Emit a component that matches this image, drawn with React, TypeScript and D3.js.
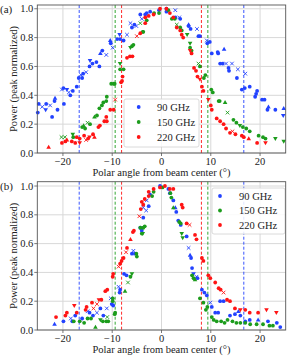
import React from 'react';
import * as d3 from 'd3';

type Pt = [number, number, string];

// panel (a)
const aBlue: Pt[] = [[-25.1,0.28,'o'],[-24.9,0.34,'o'],[-24.2,0.32,'x'],[-23.4,0.34,'o'],[-23.5,0.30,'v'],[-22.6,0.33,'x'],[-22.2,0.25,'o'],[-21.7,0.36,'o'],[-21.6,0.38,'^'],[-21.1,0.30,'o'],[-20.2,0.44,'x'],[-19.9,0.45,'o'],[-19.8,0.34,'o'],[-19.2,0.44,'v'],[-18.8,0.42,'x'],[-18.5,0.40,'o'],[-18.0,0.43,'o'],[-17.2,0.46,'o'],[-16.8,0.52,'o'],[-16.3,0.54,'x'],[-16.1,0.52,'o'],[-15.9,0.55,'o'],[-15.3,0.56,'x'],[-14.6,0.60,'o'],[-14.5,0.64,'v'],[-14.0,0.62,'o'],[-13.2,0.63,'o'],[-12.6,0.60,'o'],[-12.4,0.69,'^'],[-12.0,0.71,'o'],[-11.2,0.68,'x'],[-10.4,0.78,'^'],[-10.3,0.76,'o'],[-9.9,0.73,'x'],[-9.0,0.79,'o'],[-8.5,0.82,'v'],[-8.4,0.79,'o'],[-7.7,0.78,'o'],[-7.0,0.82,'x'],[-6.3,0.90,'x'],[-6.0,0.87,'o'],[-5.5,0.89,'o'],[-5.1,0.88,'x'],[-4.3,0.96,'o'],[-4.0,0.93,'x'],[-3.3,0.96,'o'],[-3.0,0.97,'o'],[-2.3,0.98,'o'],[-0.5,0.99,'o'],[1.0,1.0,'o'],[1.0,0.98,'o'],[2.8,0.99,'x'],[2.8,0.94,'o'],[3.6,0.94,'x'],[3.8,0.93,'o'],[5.5,0.89,'^'],[5.5,0.88,'o'],[5.9,0.86,'o'],[7.2,0.86,'x'],[7.5,0.81,'o'],[7.8,0.81,'o'],[9.2,0.78,'x'],[9.3,0.76,'o'],[9.8,0.77,'o'],[10.2,0.69,'o'],[11.4,0.70,'o'],[11.5,0.69,'o'],[11.9,0.62,'o'],[12.4,0.62,'o'],[12.7,0.72,'^'],[13.1,0.62,'x'],[13.6,0.59,'o'],[13.7,0.57,'o'],[14.3,0.62,'x'],[15.3,0.52,'o'],[15.5,0.58,'x'],[16.3,0.44,'o'],[16.9,0.45,'o'],[17.0,0.55,'x'],[17.9,0.46,'o'],[19.0,0.39,'o'],[19.2,0.41,'o'],[19.4,0.43,'o'],[20.4,0.37,'o'],[20.9,0.37,'o'],[21.5,0.30,'o'],[21.7,0.32,'^'],[23.1,0.30,'o'],[24.7,0.26,'v'],[24.8,0.31,'^']];
const aGreen: Pt[] = [[-20.3,0.11,'x'],[-19.6,0.11,'x'],[-18.0,0.13,'v'],[-17.9,0.11,'o'],[-16.1,0.18,'o'],[-15.8,0.19,'^'],[-15.5,0.17,'o'],[-15.0,0.21,'x'],[-14.5,0.20,'o'],[-13.6,0.25,'^'],[-13.1,0.26,'o'],[-12.6,0.31,'o'],[-12.1,0.33,'o'],[-11.8,0.35,'o'],[-11.2,0.36,'o'],[-11.1,0.39,'o'],[-10.2,0.48,'o'],[-9.7,0.48,'o'],[-9.5,0.48,'o'],[-8.4,0.62,'v'],[-8.4,0.58,'o'],[-7.7,0.58,'o'],[-6.3,0.73,'v'],[-6.0,0.74,'o'],[-5.7,0.75,'o'],[-4.3,0.90,'x'],[-3.8,0.84,'o'],[-3.7,0.84,'o'],[-3.0,0.92,'o'],[-1.5,0.97,'o'],[-0.5,0.97,'o'],[1.4,0.99,'o'],[2.1,0.93,'o'],[2.7,0.93,'o'],[3.1,0.89,'x'],[3.8,0.87,'o'],[4.1,0.85,'o'],[5.2,0.82,'v'],[5.8,0.76,'v'],[5.8,0.73,'o'],[6.1,0.71,'o'],[7.5,0.62,'x'],[7.8,0.60,'o'],[8.6,0.52,'o'],[8.9,0.54,'o'],[10.1,0.44,'o'],[10.4,0.42,'o'],[11.6,0.36,'o'],[11.8,0.36,'o'],[12.9,0.35,'^'],[13.4,0.28,'x'],[14.6,0.23,'o'],[15.2,0.21,'o'],[15.9,0.19,'v'],[16.5,0.18,'o'],[17.2,0.17,'o'],[17.9,0.15,'o'],[19.7,0.12,'o'],[20.6,0.11,'o'],[21.1,0.10,'o'],[23.1,0.10,'v'],[24.8,0.08,'v']];
const aRed: Pt[] = [[-22.9,0.04,'^'],[-20.2,0.07,'o'],[-19.5,0.08,'o'],[-19.2,0.09,'^'],[-18.2,0.08,'o'],[-17.5,0.07,'o'],[-17.2,0.11,'o'],[-16.6,0.10,'o'],[-16.6,0.07,'v'],[-15.7,0.12,'o'],[-15.3,0.09,'x'],[-14.9,0.10,'o'],[-14.6,0.11,'v'],[-13.9,0.13,'o'],[-13.6,0.11,'^'],[-12.8,0.18,'o'],[-12.5,0.19,'o'],[-11.6,0.22,'o'],[-11.2,0.25,'o'],[-11.1,0.22,'o'],[-10.4,0.30,'o'],[-9.7,0.30,'o'],[-9.4,0.37,'x'],[-8.2,0.49,'o'],[-8.0,0.50,'o'],[-7.9,0.53,'o'],[-7.0,0.66,'o'],[-6.4,0.67,'o'],[-5.9,0.67,'o'],[-5.0,0.81,'x'],[-4.3,0.83,'o'],[-3.3,0.90,'o'],[-3.3,0.94,'o'],[-2.6,0.95,'o'],[-1.6,0.96,'o'],[-0.3,1.0,'o'],[1.0,1.0,'o'],[1.7,0.97,'o'],[2.4,0.94,'o'],[3.1,0.87,'o'],[3.8,0.85,'o'],[4.1,0.82,'o'],[4.4,0.80,'o'],[5.8,0.71,'v'],[6.1,0.69,'o'],[6.6,0.59,'o'],[7.0,0.57,'o'],[7.3,0.53,'o'],[7.8,0.51,'v'],[8.2,0.46,'o'],[8.5,0.43,'o'],[9.5,0.37,'v'],[10.0,0.33,'o'],[10.2,0.30,'o'],[11.2,0.24,'o'],[11.9,0.22,'o'],[12.6,0.20,'o'],[13.1,0.17,'o'],[13.9,0.14,'o'],[14.4,0.15,'x'],[15.0,0.13,'o'],[16.3,0.12,'o'],[16.7,0.11,'o'],[17.7,0.10,'^'],[19.4,0.07,'o'],[21.1,0.07,'v']];

// panel (b)
const bBlue: Pt[] = [[-21.7,0.04,'^'],[-19.9,0.06,'o'],[-18.4,0.08,'x'],[-18.1,0.06,'o'],[-17.5,0.10,'o'],[-16.1,0.08,'o'],[-15.0,0.13,'x'],[-14.6,0.12,'o'],[-13.9,0.10,'o'],[-13.1,0.12,'x'],[-12.4,0.15,'o'],[-11.8,0.10,'o'],[-11.1,0.15,'x'],[-10.3,0.22,'x'],[-10.1,0.18,'o'],[-9.8,0.17,'o'],[-8.7,0.30,'x'],[-8.4,0.28,'o'],[-8.5,0.26,'o'],[-7.6,0.39,'o'],[-7.1,0.38,'o'],[-6.0,0.53,'o'],[-5.7,0.55,'x'],[-5.4,0.53,'o'],[-4.3,0.71,'o'],[-4.0,0.69,'o'],[-3.7,0.78,'o'],[-3.7,0.85,'x'],[-3.1,0.83,'x'],[-3.0,0.90,'x'],[-2.6,0.86,'o'],[-2.3,0.94,'o'],[-0.3,1.0,'o'],[1.4,0.98,'o'],[1.7,0.95,'o'],[2.4,0.90,'o'],[2.8,0.85,'^'],[3.0,0.82,'o'],[3.4,0.76,'o'],[3.9,0.73,'o'],[5.1,0.65,'o'],[5.5,0.57,'x'],[5.8,0.52,'^'],[6.0,0.50,'o'],[6.2,0.43,'o'],[6.5,0.39,'v'],[7.1,0.37,'x'],[7.3,0.36,'o'],[8.2,0.28,'o'],[8.7,0.26,'o'],[9.2,0.24,'o'],[9.9,0.19,'x'],[10.2,0.16,'o'],[10.9,0.12,'o'],[11.5,0.12,'o'],[11.9,0.20,'o'],[12.6,0.20,'o'],[13.9,0.10,'o'],[14.9,0.11,'o'],[15.6,0.13,'^'],[16.0,0.10,'o'],[17.0,0.06,'o'],[17.9,0.07,'o'],[19.6,0.07,'^'],[21.6,0.06,'o'],[23.4,0.05,'o'],[24.1,0.02,'o']];
const bGreen: Pt[] = [[-17.8,0.06,'o'],[-16.6,0.06,'o'],[-15.7,0.05,'o'],[-15.0,0.08,'o'],[-14.3,0.08,'o'],[-13.4,0.02,'^'],[-12.4,0.07,'v'],[-11.9,0.06,'o'],[-11.2,0.06,'o'],[-11.0,0.09,'x'],[-10.8,0.06,'o'],[-9.9,0.20,'o'],[-9.9,0.22,'o'],[-9.5,0.11,'o'],[-9.4,0.12,'o'],[-7.4,0.27,'^'],[-6.8,0.33,'x'],[-6.3,0.37,'o'],[-6.0,0.39,'v'],[-5.1,0.53,'o'],[-5.0,0.51,'o'],[-4.3,0.71,'o'],[-4.0,0.67,'o'],[-3.8,0.67,'v'],[-3.7,0.71,'o'],[-3.4,0.72,'o'],[-1.9,0.93,'o'],[-1.6,0.96,'o'],[0.2,0.99,'o'],[1.8,0.95,'o'],[2.0,0.92,'o'],[2.4,0.85,'^'],[3.6,0.75,'o'],[3.9,0.74,'o'],[4.1,0.67,'v'],[4.3,0.64,'v'],[6.2,0.38,'o'],[6.5,0.36,'o'],[6.8,0.35,'^'],[7.8,0.22,'o'],[8.5,0.19,'o'],[9.0,0.14,'o'],[9.3,0.16,'o'],[10.2,0.09,'o'],[10.6,0.07,'o'],[11.2,0.06,'o'],[12.1,0.06,'o'],[12.8,0.05,'o'],[13.4,0.07,'o'],[14.4,0.06,'o'],[15.2,0.05,'o'],[16.0,0.05,'o'],[17.0,0.05,'o'],[18.0,0.04,'o'],[19.3,0.04,'o'],[20.6,0.04,'o'],[21.9,0.03,'o'],[22.6,0.03,'o']];
const bRed: Pt[] = [[-21.4,0.09,'o'],[-19.5,0.10,'o'],[-19.2,0.12,'o'],[-17.7,0.17,'v'],[-17.2,0.12,'o'],[-15.4,0.14,'o'],[-15.2,0.16,'o'],[-14.1,0.19,'o'],[-13.8,0.15,'x'],[-13.1,0.18,'x'],[-12.7,0.21,'v'],[-12.2,0.21,'o'],[-11.4,0.27,'o'],[-11.0,0.28,'o'],[-9.9,0.37,'o'],[-9.8,0.39,'o'],[-8.7,0.44,'x'],[-8.4,0.46,'o'],[-8.1,0.48,'o'],[-7.7,0.50,'o'],[-7.2,0.54,'x'],[-7.0,0.57,'o'],[-6.3,0.63,'^'],[-5.8,0.68,'o'],[-5.6,0.69,'o'],[-4.5,0.79,'x'],[-4.2,0.84,'o'],[-4.0,0.89,'o'],[-3.7,0.87,'o'],[-3.4,0.91,'o'],[-2.6,0.93,'o'],[-2.6,0.96,'o'],[-1.6,0.98,'o'],[-0.3,0.99,'o'],[0.7,1.0,'o'],[1.7,0.98,'o'],[2.4,0.98,'o'],[4.1,0.87,'o'],[4.3,0.85,'o'],[5.1,0.74,'o'],[5.7,0.73,'x'],[6.8,0.66,'o'],[7.1,0.63,'o'],[8.2,0.50,'o'],[8.5,0.48,'o'],[9.5,0.38,'o'],[9.9,0.36,'o'],[10.9,0.33,'o'],[11.6,0.29,'o'],[12.0,0.28,'o'],[12.6,0.26,'x'],[13.3,0.21,'o'],[13.9,0.20,'o'],[14.9,0.15,'o'],[16.0,0.14,'v'],[17.0,0.14,'o'],[17.9,0.12,'o'],[19.6,0.12,'o'],[21.3,0.14,'v'],[23.3,0.12,'v']];

const bands = ['90 GHz', '150 GHz', '220 GHz'];
const colors = ['#2242ff', '#1c9c1c', '#ff1414'];
const beamEdges = [16.7, 9.4, 8.1]; // dashed lines at +/- these angles
const xTicks = [-20, -10, 0, 10, 20];
const yTicks = [0, 0.2, 0.4, 0.6, 0.8, 1.0];

const FONT = "'Liberation Serif', 'DejaVu Serif', serif";

function Marker({ x, y, m, c }: { x: number; y: number; m: string; c: string }) {
  if (m === '^') return <path d={`M${x},${y - 2.4}L${x + 2.3},${y + 1.6}L${x - 2.3},${y + 1.6}Z`} fill={c} />;
  if (m === 'v') return <path d={`M${x},${y + 2.4}L${x + 2.3},${y - 1.6}L${x - 2.3},${y - 1.6}Z`} fill={c} />;
  if (m === 'x') return <path d={`M${x - 1.8},${y - 1.8}L${x + 1.8},${y + 1.8}M${x - 1.8},${y + 1.8}L${x + 1.8},${y - 1.8}`} stroke={c} strokeWidth={0.9} fill="none" />;
  return <circle cx={x} cy={y} r={1.9} fill={c} />;
}

function Panel({ top, bottom, yMax, series, label, legend }: any) {
  const x = d3.scaleLinear().domain([-25.2, 25.2]).range([37.3, 285.7]);
  const y = d3.scaleLinear().domain([0, yMax]).range([bottom, top]);
  const [x0, x1] = x.range();
  return (
    <g style={{ fontFamily: FONT }} fill="#222">
      {xTicks.map((t) => <line key={'gx' + t} x1={x(t)} x2={x(t)} y1={top} y2={bottom} stroke="#d8d8d8" strokeWidth={1} />)}
      {yTicks.map((t) => <line key={'gy' + t} x1={x0} x2={x1} y1={y(t)} y2={y(t)} stroke="#d8d8d8" strokeWidth={1} />)}
      {beamEdges.map((b, i) => [-b, b].map((v) => (
        <line key={'d' + i + v} x1={x(v)} x2={x(v)} y1={top} y2={bottom} stroke={colors[i]} strokeWidth={0.9} strokeDasharray="3,2" />
      )))}
      {series.map((s: Pt[], i: number) => s.map((p, j) => (
        <Marker key={i + '-' + j} x={x(p[0])} y={y(p[1])} m={p[2]} c={colors[i]} />
      )))}
      <rect x={legend.x} y={legend.y} width={legend.w} height={legend.h} rx={2} fill="white" fillOpacity={0.85} stroke="#d0d0d0" strokeWidth={0.8} />
      {bands.map((b, i) => (
        <g key={b}>
          <circle cx={legend.mx} cy={legend.y + 8 + i * legend.dy} r={1.9} fill={colors[i]} />
          <text x={legend.tx} y={legend.y + 8 + i * legend.dy} dy="0.35em" fontSize={10.5} fill="#222">{b}</text>
        </g>
      ))}
      <rect x={x0} y={top} width={x1 - x0} height={bottom - top} fill="none" stroke="#555" strokeWidth={0.9} />
      {xTicks.map((t) => (
        <g key={'xt' + t}>
          <line x1={x(t)} x2={x(t)} y1={bottom} y2={bottom + 3} stroke="#555" strokeWidth={0.8} />
          <text x={x(t)} y={bottom + 12} textAnchor="middle" fontSize={10.5}>{t < 0 ? '\u2212' + Math.abs(t) : t}</text>
        </g>
      ))}
      {yTicks.map((t) => (
        <g key={'yt' + t}>
          <line x1={x0 - 3} x2={x0} y1={y(t)} y2={y(t)} stroke="#555" strokeWidth={0.8} />
          <text x={x0 - 4} y={y(t)} dy="0.35em" textAnchor="end" fontSize={10.5}>{t.toFixed(1)}</text>
        </g>
      ))}
      <text x={161.5} y={bottom + 23} textAnchor="middle" fontSize={10.5}>Polar angle from beam center (°)</text>
      <text transform={`translate(13,${(top + bottom) / 2}) rotate(-90)`} textAnchor="middle" dy="0.35em" fontSize={10.5}>Power (peak normalized)</text>
      <text x={0} y={top + 8} fontSize={11}>{label}</text>
    </g>
  );
}

export default function App() {
  return (
    <svg width={291} height={359} style={{ position: 'absolute', left: 0, top: 0, background: 'white' }}>
      <Panel top={5} bottom={153} yMax={1.026} series={[aBlue, aGreen, aRed]} label="(a)"
        legend={{ x: 124, y: 99, w: 75, h: 48, mx: 138.7, tx: 157, dy: 15 }} />
      <Panel top={181.7} bottom={330} yMax={1.03} series={[bBlue, bGreen, bRed]} label="(b)"
        legend={{ x: 212, y: 188, w: 73, h: 46, mx: 220, tx: 239, dy: 14.5 }} />
    </svg>
  );
}
